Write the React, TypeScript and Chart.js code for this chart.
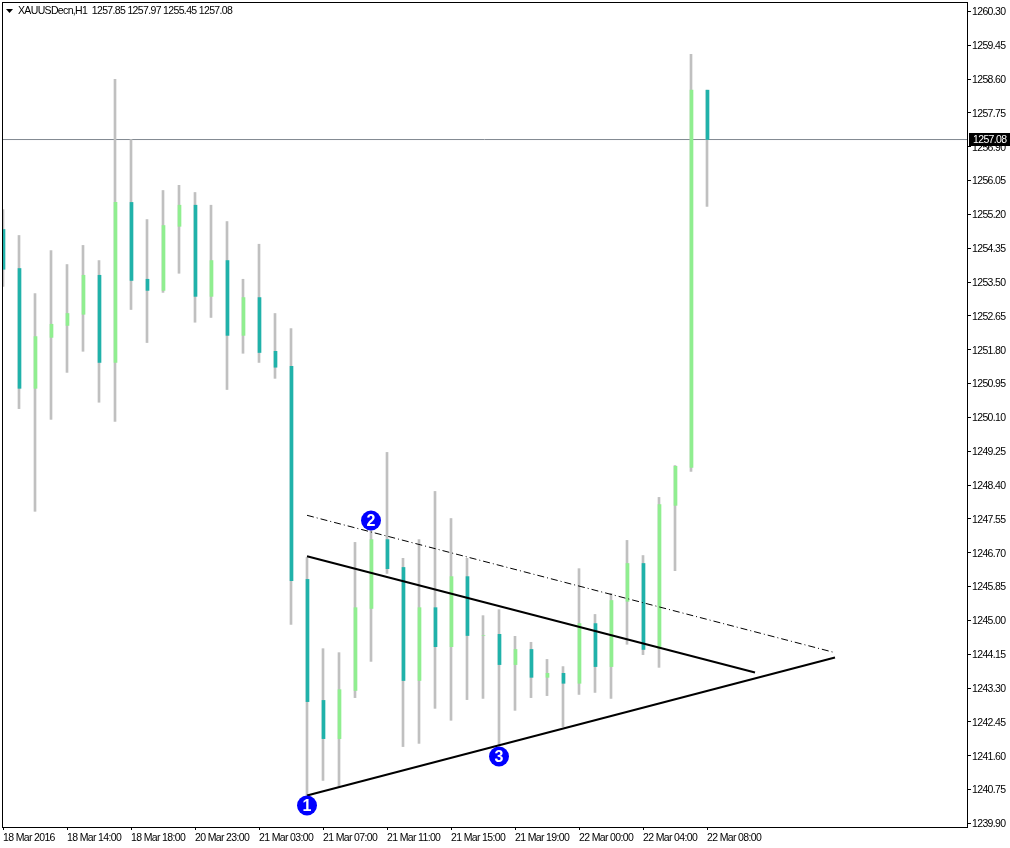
import React, { useEffect, useRef } from "react";
import { Chart, registerables } from "chart.js";

Chart.register(...registerables);

const TITLE = "XAUUSDecn,H1  1257.85 1257.97 1255.45 1257.08";
const LAST_PRICE = 1257.08;

const opens = [1254.82,1253.84,1250.83,1252.11,1252.41,1252.69,1253.67,1251.48,1255.50,1253.57,1253.29,1254.90,1255.43,1253.14,1254.04,1252.16,1253.11,1251.76,1251.38,1246.03,1242.99,1242.03,1243.24,1245.30,1247.03,1246.33,1243.49,1245.32,1244.34,1246.10,1244.62,1244.65,1243.89,1244.27,1243.57,1243.67,1243.42,1244.92,1243.84,1245.48,1246.43,1244.29,1247.89,1248.84,1258.32];
const highs = [1255.32,1254.67,1253.21,1254.29,1253.94,1254.42,1254.04,1258.59,1257.08,1255.07,1255.80,1255.93,1255.75,1255.43,1255.02,1253.57,1254.45,1252.71,1252.33,1246.58,1244.29,1244.19,1246.96,1247.26,1249.22,1246.56,1247.03,1248.24,1247.56,1246.56,1245.12,1245.27,1244.60,1244.45,1244.02,1243.84,1246.30,1245.15,1245.68,1247.01,1246.63,1248.09,1248.89,1259.22,1258.32];
const lows = [1253.39,1250.32,1247.74,1250.05,1251.23,1251.76,1250.48,1250.00,1252.81,1251.98,1253.24,1253.72,1252.49,1252.61,1250.80,1251.71,1251.48,1251.08,1244.90,1240.60,1240.98,1240.80,1243.06,1243.97,1246.18,1241.83,1241.91,1242.79,1242.49,1243.01,1243.04,1241.86,1242.74,1243.06,1243.11,1242.33,1243.14,1243.19,1243.04,1244.40,1244.14,1243.82,1246.25,1248.74,1255.40];
const closes = [1253.82,1250.83,1252.13,1252.44,1252.71,1253.67,1251.48,1255.50,1253.54,1253.29,1254.92,1255.43,1253.14,1254.04,1252.16,1253.11,1251.73,1251.36,1246.00,1242.96,1242.03,1243.26,1245.32,1247.03,1246.30,1243.49,1245.32,1244.34,1246.10,1244.62,1244.62,1243.89,1244.27,1243.57,1243.67,1243.42,1244.92,1243.84,1245.50,1246.43,1244.27,1247.91,1248.87,1258.32,1257.08];

const xTickIndex = [0,4,8,12,16,20,24,28,32,36,40,44];
const xTickLabels = ["18 Mar 2016","18 Mar 14:00","18 Mar 18:00","20 Mar 23:00","21 Mar 03:00","21 Mar 07:00","21 Mar 11:00","21 Mar 15:00","21 Mar 19:00","22 Mar 00:00","22 Mar 04:00","22 Mar 08:00"];
const yTicks = [1260.30,1259.45,1258.60,1257.75,1256.90,1256.05,1255.20,1254.35,1253.50,1252.65,1251.80,1250.95,1250.10,1249.25,1248.40,1247.55,1246.70,1245.85,1245.00,1244.15,1243.30,1242.45,1241.60,1240.75,1239.90];

const upperLine = [{ x: 19, y: 1246.61 }, { x: 47, y: 1243.69 }];
const lowerLine = [{ x: 19, y: 1240.60 }, { x: 52, y: 1244.07 }];
const channelLine = [{ x: 19, y: 1247.64 }, { x: 52, y: 1244.19 }];
const waveMarkers = [
  { x: 19, y: 1240.35, label: "1" },
  { x: 23, y: 1247.51, label: "2" },
  { x: 31, y: 1241.58, label: "3" },
];

const X_MIN = -0.0625;
const X_MAX = 60.25;
const Y_MIN = 1239.81;
const Y_MAX = 1260.535;
const TEAL = "#20B2AA";
const GREEN = "#90EE90";
const FAMILY = "'Liberation Sans', sans-serif";
const FONT_SIZE = 10.5;
const FONT = `${FONT_SIZE}px ${FAMILY}`;

const isUp = (i: number) => closes[i] >= opens[i];
const idx = opens.map((_, i) => i);

const chartFurniture = {
  id: "chartFurniture",
  beforeDraw(chart: any) {
    chart.ctx.letterSpacing = "-0.65px";
    const yScale = chart.scales.y;
    if (!yScale.$shifted) {
      yScale.getLabelItems().forEach((it: any) => {
        it.options.translation[1] += 1;
      });
      yScale.$shifted = true;
    }
  },
  afterDraw(chart: any) {
    const { ctx, chartArea: a, scales } = chart;
    ctx.save();
    ctx.strokeStyle = "#000";
    ctx.lineWidth = 1;
    ctx.strokeRect(a.left + 0.5, a.top + 0.5, a.right - a.left, a.bottom - a.top);

    ctx.font = FONT;
    ctx.textBaseline = "middle";
    ctx.textAlign = "left";
    ctx.fillStyle = "#000";
    ctx.fillText(TITLE, 18, 11);
    ctx.beginPath();
    ctx.moveTo(6, 9);
    ctx.lineTo(13, 9);
    ctx.lineTo(9.5, 13);
    ctx.closePath();
    ctx.fill();

    const py = scales.y.getPixelForValue(LAST_PRICE);
    ctx.fillStyle = "#000";
    ctx.fillRect(a.right + 2, Math.floor(py) - 6, 41, 13);
    ctx.fillStyle = "#fff";
    ctx.fillText(LAST_PRICE.toFixed(2), a.right + 6, py + 0.5);

    const meta = chart.getDatasetMeta(chart.data.datasets.findIndex((d: any) => d.label === "markers"));
    ctx.letterSpacing = "0px";
    ctx.font = `bold 16px ${FAMILY}`;
    ctx.textAlign = "center";
    meta.data.forEach((pt: any, i: number) => {
      ctx.fillText(waveMarkers[i].label, pt.x, pt.y + 1);
    });
    ctx.restore();
  },
};

const noPadding = (s: any) => {
  s.paddingLeft = s.paddingRight = s.paddingTop = s.paddingBottom = 0;
};

export default function App() {
  const ref = useRef<HTMLCanvasElement>(null);
  useEffect(() => {
    const bar = (xAxisID: string, data: any[], color: string, thickness: number, order: number) => ({
      type: "bar" as const,
      xAxisID,
      data,
      backgroundColor: color,
      barThickness: thickness,
      grouped: false,
      borderWidth: 0,
      order,
    });
    const line = (data: any[], color: string, width: number, order: number, dash: number[] = []) => ({
      type: "line" as const,
      xAxisID: "x",
      data,
      borderColor: color,
      borderWidth: width,
      borderDash: dash,
      pointRadius: 0,
      fill: false,
      tension: 0,
      order,
    });
    const chart = new Chart(ref.current!, {
      type: "bar",
      data: {
        datasets: [
          line([{ x: X_MIN, y: LAST_PRICE }, { x: X_MAX, y: LAST_PRICE }], "#808890", 1, 6),
          bar("x", idx.map((i) => ({ x: i, y: [lows[i], highs[i]] })), "#C0C0C0", 2, 5),
          bar("xBody", idx.filter(isUp).map((i) => ({ x: i, y: [opens[i], closes[i]] })), GREEN, 3, 4),
          bar("xBody", idx.filter((i) => !isUp(i)).map((i) => ({ x: i, y: [closes[i], opens[i]] })), TEAL, 3, 3),
          line(upperLine, "#000", 2, 2),
          line(lowerLine, "#000", 2, 2),
          line(channelLine, "#000", 1, 2, [7, 3, 1, 3]),
          {
            type: "scatter" as const,
            label: "markers",
            xAxisID: "x",
            data: waveMarkers.map((m) => ({ x: m.x, y: m.y })),
            pointRadius: 10,
            pointBackgroundColor: "#0000FF",
            pointBorderWidth: 0,
            order: 0,
          },
        ] as any,
      },
      options: {
        responsive: false,
        animation: false,
        layout: { autoPadding: false, padding: { left: 2, top: 2, right: 0, bottom: 0 } },
        plugins: { legend: { display: false }, tooltip: { enabled: false } },
        scales: {
          x: {
            type: "linear",
            offset: false,
            min: X_MIN,
            max: X_MAX,
            afterBuildTicks: (s: any) => {
              s.ticks = xTickIndex.map((v) => ({ value: v }));
            },
            afterFit: (s: any) => {
              s.height = 21;
              noPadding(s);
            },
            grid: { offset: false, drawOnChartArea: false, tickLength: 3, tickColor: "#000" },
            border: { color: "#000" },
            ticks: {
              autoSkip: false,
              maxRotation: 0,
              align: "start",
              padding: 2,
              color: "#000",
              font: { family: FAMILY, size: FONT_SIZE },
              callback: (v: any) => xTickLabels[xTickIndex.indexOf(v)],
            },
          },
          xBody: {
            type: "linear",
            display: false,
            offset: false,
            grid: { offset: false },
            min: X_MIN - 1 / 32,
            max: X_MAX - 1 / 32,
          },
          y: {
            type: "linear",
            position: "right",
            min: Y_MIN,
            max: Y_MAX,
            afterBuildTicks: (s: any) => {
              s.ticks = yTicks.map((v) => ({ value: v }));
            },
            afterFit: (s: any) => {
              s.width = 43;
              noPadding(s);
            },
            grid: { drawOnChartArea: false, tickLength: 4, tickColor: "#000" },
            border: { color: "#000" },
            ticks: {
              autoSkip: false,
              padding: 1,
              color: "#000",
              font: { family: FAMILY, size: FONT_SIZE },
              callback: (v: any) => Number(v).toFixed(2),
            },
          },
        },
      } as any,
      plugins: [chartFurniture],
    });
    return () => chart.destroy();
  }, []);
  return (
    <div style={{ position: "absolute", left: 0, top: 0, width: 1010, height: 848, background: "#fff" }}>
      <canvas ref={ref} width={1010} height={848} style={{ display: "block" }} />
    </div>
  );
}
